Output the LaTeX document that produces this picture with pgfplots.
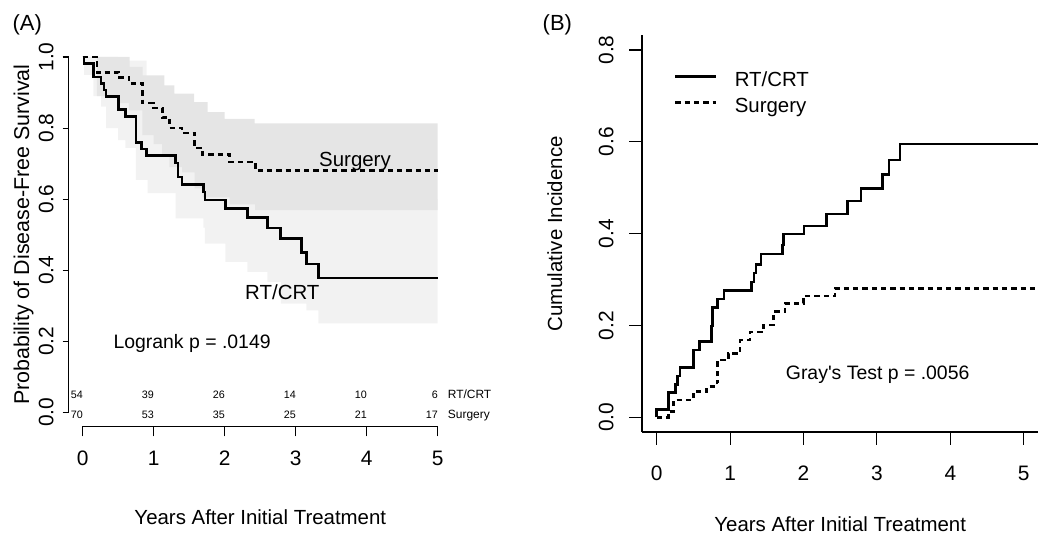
\documentclass[border=0pt]{standalone}
\usepackage{fontspec}
\setmainfont{Liberation Sans}
\usepackage{pgfplots}
\pgfplotsset{compat=1.18}
\definecolor{bandS}{RGB}{229,229,229}
\definecolor{bandR}{RGB}{242,242,242}
\newcommand{\bigf}{\fontsize{20.5}{24}\selectfont}
\newcommand{\tickf}{\fontsize{21}{25}\selectfont}
\newcommand{\smallf}{\fontsize{10.8}{12}\selectfont}
\newcommand{\labf}{\fontsize{12}{14}\selectfont}
\begin{document}
\begin{tikzpicture}[x=1bp,y=1bp]
\useasboundingbox (0,0) rectangle (1050,540);
% ---------------- Panel A ----------------
\begin{axis}[
  scale only axis, width=383.4bp, height=383.7bp,
  at={(68.5bp,113.5bp)}, anchor=south west,
  xmin=-0.2, xmax=5.2, ymin=-0.04, ymax=1.04,
  axis x line*=bottom, axis y line*=left,
  x axis line style={draw=none}, y axis line style={draw=none},
  clip=false,
  tick align=outside, major tick length=10bp,
  tick style={black, line width=1.1bp},
  ytick style={/pgfplots/major tick length=6bp},
  xtick={0,1,2,3,4,5}, xticklabels={0,1,2,3,4,5},
  ytick={0,0.2,0.4,0.6,0.8,1.0}, yticklabels={0.0,0.2,0.4,0.6,0.8,1.0},
  xticklabel style={font=\tickf, anchor=base, inner sep=0pt, yshift=-29.4bp},
  yticklabel style={font=\tickf, xshift=-5.2bp, rotate=90, anchor=base, inner sep=0pt},
]
% RT/CRT confidence band
\addplot[fill=bandR, draw=none] coordinates {
 (0.02,1.0) (0.5,1.0) (0.5,0.99) (0.9,0.99) (0.9,0.88) (1.34,0.88) (1.34,0.80)
 (1.72,0.80) (1.72,0.74) (2.32,0.74) (2.32,0.70) (3.08,0.70) (3.08,0.60) (5,0.60)
 (5,0.25) (3.32,0.25) (3.32,0.287) (3.15,0.287) (3.15,0.306) (2.79,0.306)
 (2.79,0.367) (2.60,0.367) (2.60,0.395) (2.32,0.395) (2.32,0.423) (2.01,0.423)
 (2.01,0.475) (1.72,0.475) (1.72,0.52) (1.70,0.52) (1.70,0.546) (1.31,0.546)
 (1.31,0.617) (0.915,0.617) (0.915,0.654) (0.75,0.654) (0.75,0.744) (0.60,0.744)
 (0.60,0.766) (0.50,0.766) (0.50,0.80) (0.33,0.80) (0.33,0.86) (0.26,0.86)
 (0.26,0.89) (0.15,0.89) (0.15,0.95) (0.02,0.95)} -- cycle;
% Surgery confidence band
\addplot[fill=bandS, draw=none] coordinates {
 (0.20,1.0) (0.66,1.0) (0.66,0.972) (0.845,0.972) (0.845,0.948) (1.15,0.948)
 (1.15,0.92) (1.29,0.92) (1.29,0.897) (1.57,0.897) (1.57,0.873) (1.76,0.873)
 (1.76,0.845) (2.0,0.845) (2.0,0.826) (2.42,0.826) (2.42,0.813) (5,0.813)
 (5,0.569) (2.43,0.569) (2.43,0.585) (2.07,0.585) (2.07,0.605) (1.69,0.605)
 (1.69,0.63) (1.575,0.63) (1.575,0.675) (1.40,0.675) (1.40,0.69) (1.22,0.69)
 (1.22,0.72) (1.12,0.72) (1.12,0.755) (1.00,0.755) (1.00,0.78) (0.84,0.78)
 (0.84,0.85) (0.65,0.85) (0.65,0.87) (0.50,0.87) (0.50,0.89) (0.20,0.89)} -- cycle;
% Surgery KM
\addplot[const plot, black, line width=2.6bp, dash pattern=on 5.3bp off 4bp] coordinates {
 (0,1) (0.20,0.957) (0.50,0.943) (0.65,0.926) (0.84,0.871) (1.00,0.857) (1.12,0.829)
 (1.22,0.800) (1.40,0.786) (1.575,0.744) (1.69,0.725) (2.07,0.704) (2.43,0.681) (5,0.681)};
% RT/CRT KM
\addplot[const plot, black, line width=2.6bp] coordinates {
 (0,1) (0.02,0.981) (0.15,0.944) (0.26,0.926) (0.30,0.907) (0.33,0.889) (0.50,0.852)
 (0.60,0.833) (0.75,0.759) (0.83,0.741) (0.90,0.722) (1.31,0.702) (1.34,0.662)
 (1.40,0.641) (1.70,0.620) (1.72,0.597) (2.01,0.573) (2.32,0.548) (2.60,0.519)
 (2.79,0.489) (3.08,0.450) (3.15,0.417) (3.32,0.378) (5,0.378)};
\draw[line width=1.1bp] (axis cs:0,-0.04) -- (axis cs:5,-0.04);
\draw[line width=1.1bp] (axis cs:-0.2,0) -- (axis cs:-0.2,1);
\end{axis}
% ---------------- Panel B ----------------
\begin{axis}[
  scale only axis, width=396.4bp, height=396.7bp,
  at={(642bp,108bp)}, anchor=south west,
  xmin=-0.2, xmax=5.2, ymin=-0.032, ymax=0.832,
  axis x line*=bottom, axis y line*=left,
  axis line style={black, line width=1.1bp},
  clip=false,
  tick align=outside, major tick length=13bp,
  tick style={black, line width=1.1bp},
  xtick={0,1,2,3,4,5}, xticklabels={0,1,2,3,4,5},
  ytick={0,0.2,0.4,0.6,0.8}, yticklabels={0.0,0.2,0.4,0.6,0.8},
  xticklabel style={font=\tickf, anchor=base, inner sep=0pt, yshift=-35.3bp},
  yticklabel style={font=\tickf, xshift=-15.7bp, rotate=90, anchor=base, inner sep=0pt},
  legend cell align=left,
  legend image code/.code={\draw[#1, line width=2.8bp] (0bp,5bp) -- (41bp,5bp);},
  legend style={draw=none, fill=none, inner sep=0pt, outer sep=0pt,
    at={(0.0807,0.9057)}, anchor=north west, row sep=8bp, font=\bigf,
    nodes={inner sep=0pt, text height=14bp, text depth=4bp},
    /tikz/every odd column/.append style={column sep=17bp}},
]
\addplot[const plot, black, line width=2.6bp] coordinates {
 (0,0) (0,0.0175) (0.158,0.0537) (0.254,0.072) (0.286,0.090) (0.318,0.109)
 (0.499,0.1466) (0.581,0.165) (0.75,0.199) (0.758,0.239) (0.831,0.258) (0.917,0.276)
 (1.295,0.295) (1.326,0.314) (1.353,0.333) (1.421,0.356) (1.712,0.375) (1.725,0.399)
 (2.007,0.417) (2.316,0.443) (2.602,0.471) (2.784,0.498) (3.074,0.529) (3.165,0.560)
 (3.315,0.595) (5.2,0.595)};
\addlegendentry{RT/CRT}
\addplot[const plot, black, line width=2.6bp, dash pattern=on 5.3bp off 4bp] coordinates {
 (0,0) (0.158,0.012) (0.227,0.0377) (0.499,0.056) (0.681,0.067) (0.82,0.078)
 (0.831,0.125) (0.976,0.139) (1.135,0.168) (1.272,0.186) (1.453,0.201) (1.589,0.230)
 (1.748,0.248) (1.998,0.264) (2.43,0.281) (5.2,0.281)};
\addlegendentry{Surgery}
\end{axis}
% ---------------- Text ----------------
\node[anchor=base, font=\bigf, inner sep=0pt] at (260.3,15.7) {Years After Initial Treatment};
\node[anchor=base, font=\bigf, inner sep=0pt] at (840.2,8.3) {Years After Initial Treatment};
\node[rotate=90, anchor=base, font=\fontsize{21.5}{25}\selectfont, inner sep=0pt] at (29,305.3) {Probability of Disease-Free Survival};
\node[rotate=90, anchor=base, font=\bigf, inner sep=0pt] at (562,306) {Cumulative Incidence};
\node[anchor=base west, font=\fontsize{22}{26}\selectfont, inner sep=0pt] at (12.5,509) {(A)};
\node[anchor=base west, font=\fontsize{22}{26}\selectfont, inner sep=0pt] at (542.5,509) {(B)};
\node[anchor=base, font=\bigf, inner sep=0pt] at (355,373.3) {Surgery};
\node[anchor=base, font=\bigf, inner sep=0pt] at (282.3,240) {RT/CRT};
\node[anchor=base west, font=\fontsize{19.5}{23}\selectfont, inner sep=0pt] at (113.3,191) {Logrank p = .0149};
\node[anchor=base west, font=\fontsize{19.5}{23}\selectfont, inner sep=0pt] at (785.7,160) {Gray\textquotesingle s Test p = .0056};
% numbers at risk
\foreach \t/\a/\b in {0/54/70,1/39/53,2/26/35,3/14/25,4/10/21,5/6/17}{
  \node[anchor=base east, font=\smallf, inner sep=0pt] at (83+71*\t,141) {\a};
  \node[anchor=base east, font=\smallf, inner sep=0pt] at (83+71*\t,121.7) {\b};
}
\node[anchor=base west, font=\labf, inner sep=0pt] at (447.7,141) {RT/CRT};
\node[anchor=base west, font=\labf, inner sep=0pt] at (447.7,121.7) {Surgery};
\end{tikzpicture}
\end{document}
